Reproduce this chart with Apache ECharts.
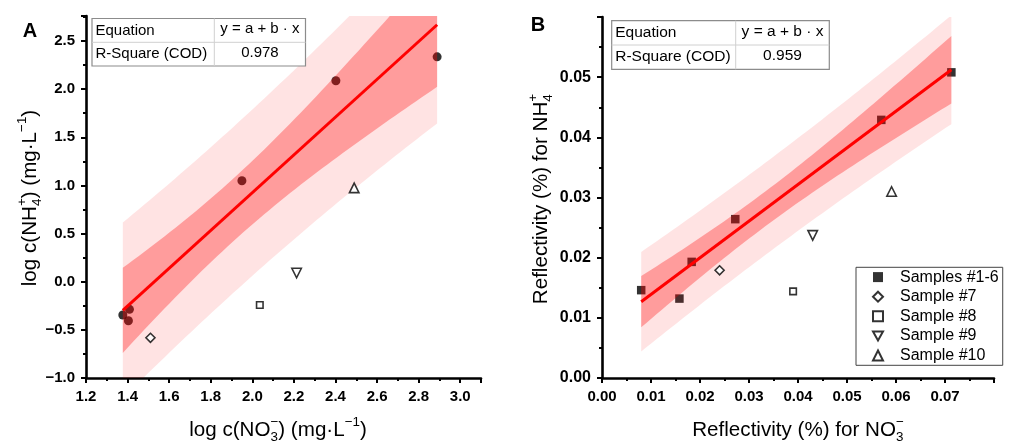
<!DOCTYPE html>
<html><head><meta charset="utf-8">
<script src="https://cdn.jsdelivr.net/npm/echarts@6/dist/echarts.min.js"></script>
<style>html,body{margin:0;padding:0;background:#fff}#c{width:1021px;height:444px}</style>
</head><body><div id="c"></div>
<script>
// ---------- Panel A data: log c(NO3-) vs log c(NH4+) ----------
const aFitX = [1.377, 1.409, 1.404, 1.950, 2.402, 2.889];
const aFitY = [-0.346, -0.287, -0.405, 1.049, 2.087, 2.336];
const aS7  = [1.510, -0.582];
const aS8  = [2.036, -0.242];
const aS9  = [2.213, 0.090];
const aS10 = [2.490, 0.975];
const aR2 = '0.978';
// ---------- Panel B data: reflectivity ----------
const bFitX = [0.0080, 0.0158, 0.0183, 0.0272, 0.0570, 0.0713];
const bFitY = [0.0146, 0.0132, 0.0193, 0.0264, 0.0429, 0.0508];
const bS7  = [0.0240, 0.0179];
const bS8  = [0.0390, 0.0144];
const bS9  = [0.0430, 0.0237];
const bS10 = [0.0591, 0.0310];
const bR2 = '0.959';
const seriesNames = ['Samples #1-6', 'Sample #7', 'Sample #8', 'Sample #9', 'Sample #10'];
const equationText = 'y = a + b \u00b7 x';
const tCrit = 2.776; // Student t (0.975, df = 4)

const FONT = '"Liberation Sans", Arial, sans-serif';

function regress(xs, ys) {
  const n = xs.length;
  const mx = xs.reduce((s, v) => s + v, 0) / n;
  const my = ys.reduce((s, v) => s + v, 0) / n;
  let sxx = 0, sxy = 0;
  for (let i = 0; i < n; i++) { sxx += (xs[i] - mx) ** 2; sxy += (xs[i] - mx) * (ys[i] - my); }
  const b = sxy / sxx, a = my - b * mx;
  let sse = 0;
  for (let i = 0; i < n; i++) sse += (ys[i] - a - b * xs[i]) ** 2;
  const s = Math.sqrt(sse / (n - 2));
  return { a, b, s, n, mx, sxx, xmin: Math.min(...xs), xmax: Math.max(...xs) };
}
function bandPoly(f, pred) {
  const up = [], lo = [], steps = 60;
  for (let i = 0; i <= steps; i++) {
    const x = f.xmin + (f.xmax - f.xmin) * i / steps;
    const y = f.a + f.b * x;
    const h = tCrit * f.s * Math.sqrt((pred ? 1 : 0) + 1 / f.n + (x - f.mx) ** 2 / f.sxx);
    up.push([x, y + h]); lo.push([x, y - h]);
  }
  return up.concat(lo.reverse());
}
function bandSeries(poly, fill, xi, z) {
  return {
    type: 'custom', xAxisIndex: xi, yAxisIndex: xi, z: z, clip: true, silent: true,
    data: [[poly[0][0], poly[0][1]]],
    renderItem: function (params, api) {
      return { type: 'polygon', shape: { points: poly.map(p => api.coord(p)) }, style: { fill: fill } };
    }
  };
}
const fA = regress(aFitX, aFitY), fB = regress(bFitX, bFitY);

const LIGHT = 'rgba(255,0,0,0.11)', DARK = 'rgba(255,0,0,0.31)';
const downTri = 'path://M0,0L10,0L5,9Z';

function axisBase(fmt, fs) {
  return {
    type: 'value',
    axisLine: { show: true, onZero: false, lineStyle: { color: '#000', width: 2.6 } },
    axisTick: { show: true, inside: false, length: 5, lineStyle: { color: '#000', width: 2 } },
    minorTick: { show: true, splitNumber: 2, length: 3, lineStyle: { color: '#000', width: 2 } },
    splitLine: { show: false }, minorSplitLine: { show: false },
    axisLabel: { color: '#000', fontFamily: FONT, fontWeight: 'bold', fontSize: fs, margin: 11,
      showMaxLabel: false, formatter: fmt }
  };
}
const fmtA = v => (Math.abs(v) < 1e-9 ? '0.0' : (v < 0 ? '\u2212' : '') + Math.abs(v).toFixed(1));
const fmtB = v => Math.abs(v).toFixed(2);

const ctx = document.createElement('canvas').getContext('2d');
function tw(t, size, weight) { ctx.font = (weight || 'normal') + ' ' + size + 'px ' + FONT; return ctx.measureText(t).width; }
function titleGroup(parts, fs, cx, cy, rotate) {
  const ss = Math.round(fs * 0.65 * 10) / 10;
  let x = 0; const kids = [];
  parts.forEach(p => {
    if (typeof p === 'string') {
      kids.push({ type: 'text', x: x, y: 0, style: { text: p, font: fs + 'px ' + FONT, fill: '#000', verticalAlign: 'middle' } });
      x += tw(p, fs);
    } else {
      let w = 0;
      if (p.sup) { kids.push({ type: 'text', x: x, y: -fs * 0.36, style: { text: p.sup, font: ss + 'px ' + FONT, fill: '#000', verticalAlign: 'middle' } }); w = Math.max(w, tw(p.sup, ss)); }
      if (p.sub) { kids.push({ type: 'text', x: x, y: fs * 0.36, style: { text: p.sub, font: ss + 'px ' + FONT, fill: '#000', verticalAlign: 'middle' } }); w = Math.max(w, tw(p.sub, ss)); }
      x += w;
    }
  });
  kids.forEach(k => { k.x -= x / 2; });
  return { type: 'group', x: cx, y: cy, rotation: rotate ? Math.PI / 2 : 0, children: kids, silent: true };
}
function table(x0, y0, x1, y1, xc, yr, fs, r2) {
  const els = [];
  els.push({ type: 'rect', shape: { x: x0, y: y0, width: x1 - x0, height: y1 - y0 }, style: { fill: '#fff', stroke: '#8c8c8c', lineWidth: 1.2 }, z: 50 });
  els.push({ type: 'line', shape: { x1: xc, y1: y0, x2: xc, y2: y1 }, style: { stroke: '#d0d0d0', lineWidth: 1 }, z: 51 });
  els.push({ type: 'line', shape: { x1: x0, y1: yr, x2: x1, y2: yr }, style: { stroke: '#d0d0d0', lineWidth: 1 }, z: 51 });
  const r1 = (y0 + yr) / 2, r2y = (yr + y1) / 2, cx = (xc + x1) / 2;
  const st = (t, al) => ({ text: t, font: fs + 'px ' + FONT, fill: '#000', verticalAlign: 'middle', align: al });
  els.push({ type: 'text', x: x0 + 3.5, y: r1, style: st('Equation', 'left'), z: 52 });
  els.push({ type: 'text', x: x0 + 3.5, y: r2y, style: st('R-Square (COD)', 'left'), z: 52 });
  els.push({ type: 'text', x: cx, y: r1 - 1.5, style: st(equationText, 'center'), z: 52 });
  els.push({ type: 'text', x: cx, y: r2y - 1.5, style: st(r2, 'center'), z: 52 });
  return els;
}

const TFS = 20.6;
const graphics = [].concat(
  table(92, 18.5, 305.5, 66, 214.3, 42.3, 15, aR2),
  table(611.7, 20.7, 829.3, 69.3, 735.7, 45, 15.5, bR2),
  [
    { type: 'text', x: 30, y: 31, style: { text: 'A', font: 'bold 20px ' + FONT, fill: '#000', align: 'center', verticalAlign: 'middle' } },
    { type: 'text', x: 538, y: 25.5, style: { text: 'B', font: 'bold 20px ' + FONT, fill: '#000', align: 'center', verticalAlign: 'middle' } },
    titleGroup(['log c(NO', { sup: '\u2212', sub: '3' }, ') (mg\u00b7L', { sup: '\u22121' }, ')'], TFS, 278, 430, false),
    titleGroup(['log c(NH', { sup: '+', sub: '4' }, ') (mg\u00b7L', { sup: '\u22121' }, ')'], TFS, 30, 198, true),
    titleGroup(['Reflectivity (%) for NO', { sup: '\u2212', sub: '3' }], TFS, 798, 430, false),
    titleGroup(['Reflectivity (%) for NH', { sup: '+', sub: '4' }], TFS, 541, 199, true)
  ]
);

const hollow = { color: '#fff', borderColor: '#000', borderWidth: 1.6 };

const option = {
  animation: false,
  backgroundColor: '#fff',
  grid: [
    { left: 86, right: 1021 - 481, top: 16, bottom: 444 - 378 },
    { left: 602, right: 1021 - 994, top: 17, bottom: 444 - 378 }
  ],
  xAxis: [
    Object.assign(axisBase(fmtA, 15), { gridIndex: 0, min: 1.2, max: 3.1, interval: 0.2 }),
    Object.assign(axisBase(fmtB, 15), { gridIndex: 1, min: 0, max: 0.08, interval: 0.01 })
  ],
  yAxis: [
    Object.assign(axisBase(fmtA, 15), { gridIndex: 0, min: -1.0, max: 2.76, interval: 0.5 }),
    Object.assign(axisBase(fmtB, 16), { gridIndex: 1, min: 0, max: 0.06, interval: 0.01 })
  ],
  legend: {
    data: seriesNames, orient: 'vertical', left: 856, top: 267.3,
    itemWidth: 10, itemHeight: 10, itemGap: 0, padding: [0, 4, 0, 16],
    borderColor: '#444', borderWidth: 1, selectedMode: false,
    textStyle: { fontFamily: FONT, fontSize: 16, color: '#000', lineHeight: 19.6, padding: [0, 0, 0, 12] }
  },
  graphic: graphics,
  series: [
    // Panel A
    { name: 'A1', type: 'scatter', xAxisIndex: 0, yAxisIndex: 0, z: 1, symbol: 'circle', symbolSize: 9,
      itemStyle: { color: '#000' }, data: aFitX.map((x, i) => [x, aFitY[i]]) },
    bandSeries(bandPoly(fA, true), LIGHT, 0, 2),
    bandSeries(bandPoly(fA, false), DARK, 0, 3),
    { name: 'Afit', type: 'line', xAxisIndex: 0, yAxisIndex: 0, z: 4, showSymbol: false, symbol: 'none',
      lineStyle: { color: '#ff0000', width: 3 },
      data: [[fA.xmin, fA.a + fA.b * fA.xmin], [fA.xmax, fA.a + fA.b * fA.xmax]] },
    { name: 'A7', type: 'scatter', xAxisIndex: 0, yAxisIndex: 0, z: 5, symbol: 'diamond', symbolSize: 9, itemStyle: hollow, data: [aS7] },
    { name: 'A8', type: 'scatter', xAxisIndex: 0, yAxisIndex: 0, z: 5, symbol: 'rect', symbolSize: 6.5, itemStyle: hollow, data: [aS8] },
    { name: 'A9', type: 'scatter', xAxisIndex: 0, yAxisIndex: 0, z: 5, symbol: downTri, symbolSize: 9.5, itemStyle: hollow, data: [aS9] },
    { name: 'A10', type: 'scatter', xAxisIndex: 0, yAxisIndex: 0, z: 5, symbol: 'triangle', symbolSize: 9.5, itemStyle: hollow, data: [aS10] },
    // Panel B
    { name: seriesNames[0], type: 'scatter', xAxisIndex: 1, yAxisIndex: 1, z: 1, symbol: 'rect', symbolSize: 8.5,
      itemStyle: { color: '#000' }, data: bFitX.map((x, i) => [x, bFitY[i]]) },
    bandSeries(bandPoly(fB, true), LIGHT, 1, 2),
    bandSeries(bandPoly(fB, false), DARK, 1, 3),
    { name: 'Bfit', type: 'line', xAxisIndex: 1, yAxisIndex: 1, z: 4, showSymbol: false, symbol: 'none',
      lineStyle: { color: '#ff0000', width: 3 },
      data: [[fB.xmin, fB.a + fB.b * fB.xmin], [fB.xmax, fB.a + fB.b * fB.xmax]] },
    { name: seriesNames[1], type: 'scatter', xAxisIndex: 1, yAxisIndex: 1, z: 5, symbol: 'diamond', symbolSize: 9, itemStyle: hollow, data: [bS7] },
    { name: seriesNames[2], type: 'scatter', xAxisIndex: 1, yAxisIndex: 1, z: 5, symbol: 'rect', symbolSize: 6.5, itemStyle: hollow, data: [bS8] },
    { name: seriesNames[3], type: 'scatter', xAxisIndex: 1, yAxisIndex: 1, z: 5, symbol: downTri, symbolSize: 9.5, itemStyle: hollow, data: [bS9] },
    { name: seriesNames[4], type: 'scatter', xAxisIndex: 1, yAxisIndex: 1, z: 5, symbol: 'triangle', symbolSize: 9.5, itemStyle: hollow, data: [bS10] }
  ]
};
const chart = echarts.init(document.getElementById('c'), null, { renderer: 'canvas' });
chart.setOption(option);
</script>
</body></html>
